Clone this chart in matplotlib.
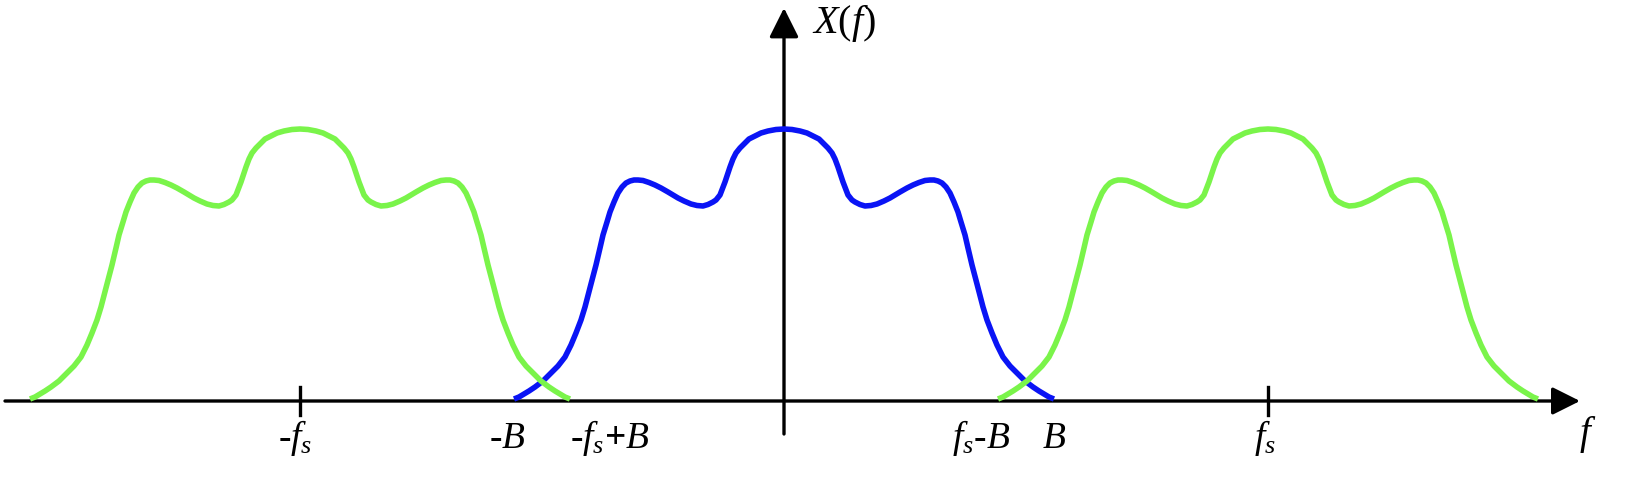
import matplotlib
matplotlib.use("Agg")
import matplotlib.pyplot as plt
from matplotlib.patches import FancyArrowPatch

plt.rcParams['mathtext.fontset'] = 'custom'
plt.rcParams['mathtext.it'] = 'Liberation Serif:italic'
plt.rcParams['mathtext.rm'] = 'Liberation Serif'
plt.rcParams['font.family'] = ['Liberation Serif', 'DejaVu Serif']

# spectrum shape of one copy (right half, mirrored for the left half)
half_offset = [0, 8, 16, 23, 29, 35, 39, 44, 48, 51, 54,
               59, 64, 68, 71, 76, 81, 87, 93, 100, 106,
               116, 123, 129, 135, 141, 146, 150, 154, 158, 162,
               166, 170, 174, 177, 181, 184, 188, 193, 199, 203,
               208, 213, 219, 226, 233, 241, 249, 255, 260, 265, 270]
half_height = [272, 271.5, 270, 268, 265, 262, 258, 253, 248, 242, 234,
               219, 206, 201, 199, 196.5, 195, 195.5, 197, 200, 203,
               209, 213, 216, 218.5, 220.5, 221, 221, 220, 218, 214,
               208, 199, 189, 179, 166, 153, 136, 117, 94, 81,
               68, 56, 44, 35, 28, 20, 14, 10, 7, 4, 2]

fs = 484      # sampling frequency
B = 270       # bandwidth
copies = [-fs, fs]

# full pulse
pulse_x = [-o for o in half_offset[::-1]] + half_offset[1:]
pulse_y = half_height[::-1] + half_height[1:]

fig = plt.figure(figsize=(16.4, 4.78), dpi=100)
ax = fig.add_axes([0, 0, 1, 1])
ax.set_xlim(-784, 856)
ax.set_ylim(-77, 401)
ax.axis('off')

# axes arrows
ax.add_patch(FancyArrowPatch((-779, 0), (796, 0), arrowstyle='-|>,head_length=1.0,head_width=0.5',
                             mutation_scale=17, lw=2.4, color='black', shrinkA=0, shrinkB=0, zorder=1))
ax.add_patch(FancyArrowPatch((0, -33), (0, 393), arrowstyle='-|>,head_length=1.0,head_width=0.5',
                             mutation_scale=18, lw=2.4, color='black', shrinkA=0, shrinkB=0, zorder=1))

# ticks at +-fs
for c in copies:
    ax.plot([c, c], [-14, 14], color='black', lw=2.4, zorder=1)

# original spectrum
ax.plot(pulse_x, pulse_y, color='#0A14F5', lw=4.0, solid_joinstyle='round',
        solid_capstyle='butt', zorder=2)
# replicas
for c in copies:
    ax.plot([c + x for x in pulse_x], pulse_y, color='#7AF44A', lw=4.0,
            solid_joinstyle='round', solid_capstyle='butt', zorder=3)

lab_size = 27
lab_y = -47
ax.text(28, 378, '$X(f)$', fontsize=29, ha='left', va='center')
ax.text(-489, lab_y, '-$f_s$', fontsize=lab_size, fontweight='bold', ha='center', va='baseline')
ax.text(-277, lab_y, '-$B$', fontsize=lab_size, fontweight='bold', ha='center', va='baseline')
ax.text(-fs + B, lab_y, '-$f_s$+$B$', fontsize=lab_size, fontweight='bold', ha='left', va='baseline')
ax.text(226, lab_y, '$f_s$-$B$', fontsize=lab_size, fontweight='bold', ha='right', va='baseline')
ax.text(B, lab_y, '$B$', fontsize=lab_size, ha='center', va='baseline')
ax.text(fs - 3, lab_y, '$f_s$', fontsize=lab_size, ha='center', va='baseline')
ax.text(804, -43, '$f$', fontsize=lab_size + 1, ha='center', va='baseline')

fig.savefig('out.png', dpi=100)
plt.close(fig)
